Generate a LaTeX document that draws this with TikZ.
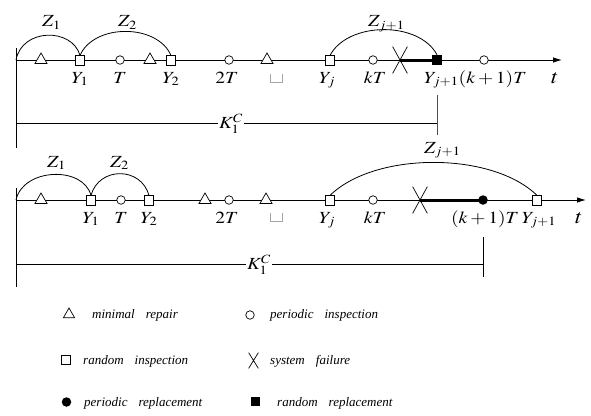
\documentclass[tikz,border=0pt]{standalone}
\usepackage{mathptmx}
\usepackage[no-math]{fontspec}
\setmainfont{Liberation Serif}
\usetikzlibrary{shapes.geometric,shapes.misc,arrows.meta}
\newcommand\mlbl[1]{\scalebox{1.15}[1]{$#1$}}
\begin{document}
\begin{tikzpicture}[x=1pt,y=-1pt,
  base/.style={line width=0.9pt},
  tri/.style={regular polygon,regular polygon sides=3,minimum size=14pt,inner sep=0pt,draw,fill=white,line width=0.7pt},
  sq/.style={rectangle,minimum size=9.5pt,inner sep=0pt,draw,fill=white,line width=0.7pt},
  circ/.style={circle,minimum size=8.5pt,inner sep=0pt,draw,fill=white,line width=0.7pt},
  fsq/.style={rectangle,minimum size=10pt,inner sep=0pt,fill=black},
  fcirc/.style={circle,minimum size=9.5pt,inner sep=0pt,fill=black},
  fail/.style={cross out,minimum width=14pt,minimum height=26pt,inner sep=0pt,draw,line width=0.7pt},
  lbl/.style={inner sep=0pt,anchor=base,font=\fontsize{17}{20}\selectfont},
  zlbl/.style={inner sep=0pt,anchor=base west,font=\fontsize{17}{20}\selectfont},
  tlbl/.style={inner sep=0pt,anchor=base,font=\fontsize{20}{22}\selectfont},
  kl/.style={inner sep=1.5pt,anchor=base,fill=white,font=\fontsize{17}{20}\selectfont},
  leg/.style={inner sep=0pt,anchor=base west,font=\fontsize{13}{15}\selectfont\itshape},
  arcline/.style={line width=0.8pt},
  axis/.style={line width=0.9pt,-{Latex[length=9pt,width=5.5pt]}},
  heavy/.style={line width=3pt},
  grayb/.style={gray!70,line width=0.7pt}
]
\useasboundingbox (0,0) rectangle (591,415);

% ---------------- top diagram ----------------
\coordinate (a0) at (16,60);
\coordinate (a0t) at (16,48);
\coordinate (a0b) at (16,148);
\coordinate (aend) at (562,60);
\draw[base] (a0t) -- (a0b);
\draw[axis] (a0) -- (aend);
\node[fail] (aX) at (400,60) {};
\node[fsq] (aYk) at (437,60) {};
\draw[heavy] (aX.center) -- (aYk.center);
\node[tri] (atr1) at (41,60) {};
\node[sq] (aY1) at (80,60.5) {};
\node[circ] (aT) at (120,60) {};
\node[tri] (atr2) at (150,60) {};
\node[sq] (aY2) at (171,60.5) {};
\node[circ] (a2T) at (229,60) {};
\node[tri] (atr3) at (267,60) {};
\node[sq] (aYj) at (330,60.5) {};
\node[circ] (akT) at (373,60) {};
\node[circ] (ak1T) at (484,60) {};
\draw[grayb] (270,74) -- (270,82) -- (282,82) -- (282,74);

\draw[arcline] (a0) .. controls +(6,-32) and +(-8,-28) .. (aY1.north);
\draw[arcline] (aY1.north) .. controls +(14,-32) and +(-14,-32) .. (aY2.north);
\draw[arcline] (aYj.north) .. controls +(18,-34) and +(-18,-34) .. (aYk.north);

\node[zlbl] (aZ1) at (42,27) {\mlbl{Z_1}};
\node[zlbl] (aZ2) at (118,27) {\mlbl{Z_2}};
\node[zlbl] (aZj) at (368,27) {\mlbl{Z_{j+1}}};

\node[lbl] (laY1) at (80,83) {\mlbl{Y_1}};
\node[lbl] (laT) at (120,83) {\mlbl{T}};
\node[lbl] (laY2) at (171,83) {\mlbl{Y_2}};
\node[lbl] (la2T) at (227,83) {\mlbl{2T}};
\node[lbl] (laYj) at (327,83) {\mlbl{Y_j}};
\node[lbl] (lakT) at (375,83) {\mlbl{kT}};
\node[lbl,anchor=base west] (laYk) at (424,83) {\mlbl{Y_{j+1}(k+1)T}};
\node[tlbl] (lat) at (555,83) {\mlbl{t}};

\coordinate (aK0) at (16,123);
\coordinate (aK1) at (437,123);
\coordinate (aK1t) at (437,95);
\coordinate (aK1b) at (437,135);
\draw[base] (aK0) -- (aK1);
\draw[base,gray!60!black] (aK1t) -- (aK1b);
\node[kl] (aK) at (231,128.5) {\mlbl{K_1^C}};

% ---------------- bottom diagram ----------------
\coordinate (b0) at (16,200);
\coordinate (b0t) at (16,188);
\coordinate (b0b) at (16,287);
\coordinate (bend) at (586,200);
\draw[base] (b0t) -- (b0b);
\draw[axis] (b0) -- (bend);
\node[fail] (bX) at (420,200) {};
\node[fcirc] (bk1T) at (483,200) {};
\draw[heavy] (bX.center) -- (bk1T.center);
\node[tri] (btr1) at (41,200) {};
\node[sq] (bY1) at (91,200.5) {};
\node[circ] (bT) at (121,200) {};
\node[sq] (bY2) at (149,200.5) {};
\node[tri] (btr2) at (205,200) {};
\node[circ] (b2T) at (229,200) {};
\node[tri] (btr3) at (266,200) {};
\node[sq] (bYj) at (330,200.5) {};
\node[circ] (bkT) at (373,200) {};
\node[sq] (bYk) at (537,200.5) {};
\draw[grayb] (270,213) -- (270,221) -- (282,221) -- (282,213);

\draw[arcline] (b0) .. controls +(7,-32) and +(-8,-30) .. (bY1.north);
\draw[arcline] (bY1.north) .. controls +(8,-29) and +(-8,-29) .. (bY2.north);
\draw[arcline] (bYj.north) .. controls +(45,-44) and +(-45,-44) .. (bYk.north);

\node[zlbl] (bZ1) at (47,167) {\mlbl{Z_1}};
\node[zlbl] (bZ2) at (110,167) {\mlbl{Z_2}};
\node[zlbl] (bZj) at (424,153) {\mlbl{Z_{j+1}}};

\node[lbl] (lbY1) at (91,223) {\mlbl{Y_1}};
\node[lbl] (lbT) at (121,223) {\mlbl{T}};
\node[lbl] (lbY2) at (149,223) {\mlbl{Y_2}};
\node[lbl] (lb2T) at (227,223) {\mlbl{2T}};
\node[lbl] (lbYj) at (327,223) {\mlbl{Y_j}};
\node[lbl] (lbkT) at (375,223) {\mlbl{kT}};
\node[lbl] (lbk1T) at (485,223) {\mlbl{(k+1)T}};
\node[lbl] (lbYk) at (539,223) {\mlbl{Y_{j+1}}};
\node[tlbl] (lbt) at (579,223) {\mlbl{t}};

\coordinate (bK0) at (16,264);
\coordinate (bK1) at (483,264);
\coordinate (bK1t) at (483,237);
\coordinate (bK1b) at (483,277);
\draw[base] (bK0) -- (bK1);
\draw[base] (bK1t) -- (bK1b);
\node[kl] (bK) at (259,269.5) {\mlbl{K_1^C}};

% ---------------- legend ----------------
\node[tri,minimum size=13pt] (gtri) at (69,314.5) {};
\node[leg] (gtrit) at (92,318) {minimal\hspace{0.6em} repair};
\node[circ] (gcirc) at (250,315) {};
\node[leg] (gcirct) at (270,318) {periodic\hspace{0.6em} inspection};
\node[sq,minimum size=8.5pt] (gsq) at (66,360) {};
\node[leg] (gsqt) at (83,364) {random\hspace{0.6em} inspection};
\node[fail,minimum width=9pt,minimum height=15pt] (gX) at (253.5,360.5) {};
\node[leg] (gXt) at (270,364) {system\hspace{0.6em} failure};
\node[fcirc] (gfc) at (66.5,402) {};
\node[leg] (gfct) at (84,406) {periodic\hspace{0.6em} replacement};
\node[fsq,minimum size=9pt] (gfs) at (255,401.5) {};
\node[leg] (gfst) at (277,406) {random\hspace{0.6em} replacement};
\end{tikzpicture}
\end{document}
